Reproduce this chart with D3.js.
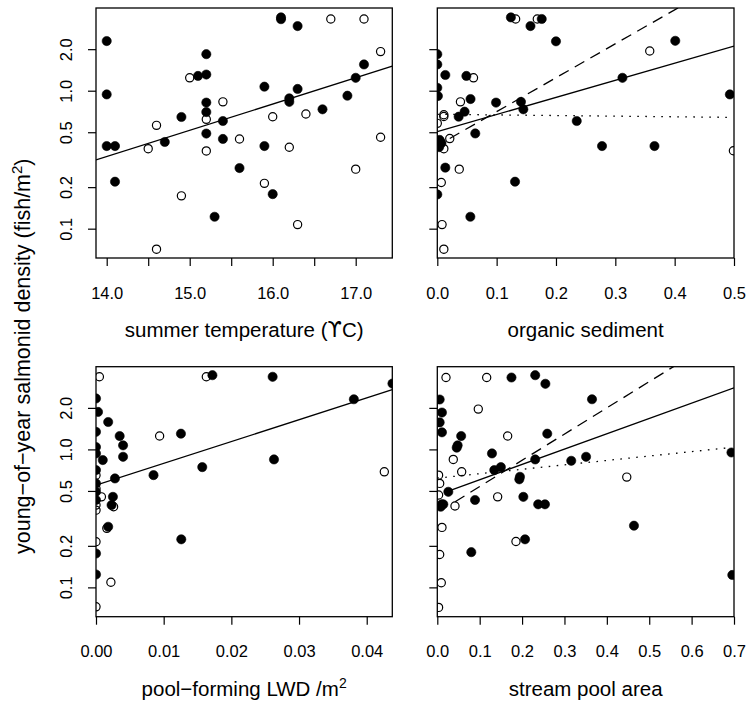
<!DOCTYPE html>
<html><head><meta charset="utf-8">
<script src="https://cdn.jsdelivr.net/npm/d3@7"></script>
<style>
body{margin:0;background:#fff}
svg{display:block}
text{font-family:"Liberation Sans",Arial,Helvetica,sans-serif;fill:#000}
</style>
</head><body>
<svg id="c" width="746" height="702"></svg>
<script>
// ---------- data: [x, density, filled(1)/open(0)] ----------
const tempPts = [[14.0,2.29,1],[14.0,0.94,1],[14.0,0.397,1],[14.1,0.397,1],[14.1,0.219,1],[14.5,0.38,0],[14.6,0.561,0],[14.6,0.071,0],[14.7,0.425,1],[14.9,0.645,1],[14.9,0.173,0],[15.0,1.24,0],[15.1,1.28,1],[15.2,1.31,1],[15.2,1.84,1],[15.2,0.82,1],[15.2,0.70,1],[15.2,0.62,0],[15.2,0.489,1],[15.2,0.366,0],[15.4,0.83,0],[15.4,0.603,1],[15.4,0.447,1],[15.3,0.122,1],[15.6,0.447,0],[15.6,0.275,1],[15.9,1.07,1],[15.9,0.397,1],[15.9,0.213,0],[16.0,0.648,0],[16.0,0.178,1],[16.1,3.40,1],[16.1,3.30,1],[16.2,0.88,1],[16.2,0.83,1],[16.2,0.389,0],[16.3,2.94,1],[16.3,1.03,1],[16.3,0.107,0],[16.4,0.678,0],[16.6,0.733,1],[16.7,3.31,0],[16.9,0.92,1],[17.0,1.24,1],[17.0,0.27,0],[17.1,1.55,1],[17.1,3.31,0],[17.3,1.92,0],[17.3,0.46,0]];
const sedPts = [[0,1.84,1],[0,1.55,1],[0.0135,1.30,1],[0,1.05,1],[0.001,0.915,1],[0.049,1.28,1],[0.061,1.24,0],[0.039,0.83,0],[0.056,0.87,1],[0.011,0.67,0],[0.011,0.65,0],[0,0.58,0],[0.036,0.648,1],[0.046,0.705,1],[0.064,0.49,1],[0.021,0.45,0],[0.004,0.44,1],[0.007,0.418,1],[0.003,0.39,1],[0.011,0.38,0],[0.0135,0.277,1],[0.037,0.27,0],[0.0067,0.216,0],[0,0.177,1],[0.0557,0.122,1],[0.008,0.107,0],[0.011,0.071,0],[0.124,3.40,1],[0.132,3.31,0],[0.1685,3.31,0],[0.176,3.31,1],[0.157,2.94,1],[0.200,2.28,1],[0.401,2.30,1],[0.358,1.94,0],[0.312,1.24,1],[0.493,0.94,1],[0.099,0.82,1],[0.141,0.83,1],[0.145,0.733,1],[0.235,0.603,1],[0.2776,0.397,1],[0.366,0.397,1],[0.499,0.367,0],[0.131,0.219,1]];
const lwdPts = [[0.0005,3.36,0],[0.0163,3.36,0],[0.0172,3.45,1],[0.0261,3.36,1],[0.0381,2.31,1],[0,2.34,1],[0.0003,1.87,1],[0.0018,1.58,1],[0,1.34,1],[0.0035,1.25,1],[0.0094,1.25,0],[0.01255,1.30,1],[0.004,1.07,1],[0.004,0.884,1],[0,1.04,1],[0,0.935,1],[0.001,0.837,1],[0,0.708,1],[0,0.65,0],[0.0028,0.616,1],[0,0.567,1],[0,0.52,0],[0,0.493,1],[0.0008,0.453,0],[0.0025,0.453,1],[0,0.43,1],[0,0.395,0],[0.0023,0.395,1],[0.0026,0.384,0],[0,0.363,0],[0.0018,0.275,1],[0.0016,0.268,0],[0,0.214,0],[0,0.176,1],[0,0.124,1],[0.0022,0.109,0],[0,0.0723,0],[0.0085,0.651,1],[0.0157,0.744,1],[0.0263,0.846,1],[0.0126,0.223,1],[0.0426,0.688,0],[0.0438,3.0,1]];
const poolPts = [[0.0205,3.32,0],[0.1165,3.32,0],[0.175,3.32,1],[0.231,3.45,1],[0.255,2.99,1],[0.365,2.31,1],[0.0967,1.96,0],[0.2594,1.30,1],[0.166,1.25,0],[0.0563,1.25,1],[0.048,1.07,1],[0.0458,1.03,1],[0.129,0.935,1],[0.0377,0.846,0],[0.231,0.846,1],[0.316,0.827,1],[0.351,0.884,1],[0.694,0.95,1],[0.1344,0.708,1],[0.150,0.744,1],[0.195,0.633,1],[0.1935,0.607,1],[0.0575,0.688,0],[0.447,0.63,0],[0.026,0.493,1],[0.089,0.43,1],[0.1424,0.453,0],[0.203,0.453,1],[0.238,0.40,1],[0.254,0.40,1],[0.0417,0.389,0],[0.0104,0.40,1],[0.0142,0.40,1],[0.008,0.384,1],[0.464,0.28,1],[0.1856,0.215,0],[0.207,0.223,1],[0.0802,0.18,1],[0.696,0.123,1],[0.0056,2.30,1],[0.011,1.85,1],[0.0056,1.57,1],[0.011,1.33,1],[0.003,0.651,0],[0.0056,0.567,0],[0.003,0.467,0],[0.011,0.272,0],[0.0056,0.173,0],[0.0094,0.108,0],[0.003,0.0716,0]];

// fitted lines: log10(density) = a + b*x, drawn from x0 to x1 (null = plot edge)
const tempFits = [{a:-3.143,b:0.1904,x0:null,x1:null,type:"solid"}];
const sedFits  = [{a:-0.297,b:1.242,x0:0,x1:null,type:"solid"},{a:-0.398,b:2.46,x0:0.021,x1:null,type:"dashed"},{a:-0.171,b:-0.0448,x0:0,x1:0.496,type:"dotted"}];
const lwdFits  = [{a:-0.259,b:15.8,x0:null,x1:null,type:"solid"}];
const poolFits = [{a:-0.331,b:1.11,x0:0.026,x1:null,type:"solid"},{a:-0.459,b:1.90,x0:0.042,x1:null,type:"dashed"},{a:-0.208,b:0.320,x0:0,x1:0.694,type:"dotted"}];

// ticks
const tempTicks = [14,14.5,15,15.5,16,16.5,17];
const tempTickLabels = ["14.0","","15.0","","16.0","","17.0"];
const sedTicks = [0,0.1,0.2,0.3,0.4,0.5];
const sedTickLabels = ["0.0","0.1","0.2","0.3","0.4","0.5"];
const lwdTicks = [0,0.01,0.02,0.03,0.04];
const lwdTickLabels = ["0.00","0.01","0.02","0.03","0.04"];
const poolTicks = [0,0.1,0.2,0.3,0.4,0.5,0.6,0.7];
const poolTickLabels = ["0.0","0.1","0.2","0.3","0.4","0.5","0.6","0.7"];
const yTicks = [0.1,0.2,0.5,1,2];
const yTickLabels = ["0.1","0.2","0.5","1.0","2.0"];

// ---------- layout ----------
const svg = d3.select("#c");
const yDomain = [0.0613, 3.976];
const colL = [96, 392.3], colR = [437.3, 734];
const rowT = [8, 258], rowB = [366.7, 616.7];

const panels = [
  {pts:tempPts, fits:tempFits, ticks:tempTicks, labels:tempTickLabels, xd:[13.871,17.441], col:colL, row:rowT, ylab:true},
  {pts:sedPts, fits:sedFits, ticks:sedTicks, labels:sedTickLabels, xd:[0,0.5], col:colR, row:rowT, ylab:false},
  {pts:lwdPts, fits:lwdFits, ticks:lwdTicks, labels:lwdTickLabels, xd:[0,0.04378], col:colL, row:rowB, ylab:true},
  {pts:poolPts, fits:poolFits, ticks:poolTicks, labels:poolTickLabels, xd:[0,0.7], col:colR, row:rowB, ylab:false}
];

const dash = {solid:null, dashed:"11,7", dotted:"1.6,6.4"};

panels.forEach((p,i)=>{
  const x = d3.scaleLinear().domain(p.xd).range(p.col);
  const y = d3.scaleLog().domain(yDomain).range([p.row[1], p.row[0]]);
  const cid = "clip"+i;
  svg.append("clipPath").attr("id",cid).append("rect")
    .attr("x",p.col[0]).attr("y",p.row[0])
    .attr("width",p.col[1]-p.col[0]).attr("height",p.row[1]-p.row[0]);
  const g = svg.append("g").attr("clip-path",`url(#${cid})`);

  g.selectAll("circle").data(p.pts).join("circle")
    .attr("cx",d=>x(d[0])).attr("cy",d=>y(d[1]))
    .attr("r",d=>d[2]?4.6:4.1)
    .attr("fill",d=>d[2]?"#000":"none")
    .attr("stroke","#000").attr("stroke-width",d=>d[2]?0.6:1.2);

  p.fits.forEach(f=>{
    const xa = f.x0==null?p.xd[0]:f.x0, xb = f.x1==null?p.xd[1]:f.x1;
    const pts = [xa,xb].map(v=>[x(v), y(Math.pow(10,f.a+f.b*v))]);
    g.append("path").attr("d",d3.line()(pts))
      .attr("fill","none").attr("stroke","#000").attr("stroke-width",1.3)
      .attr("stroke-dasharray",dash[f.type]);
  });

  svg.append("rect").attr("x",p.col[0]).attr("y",p.row[0])
    .attr("width",p.col[1]-p.col[0]).attr("height",p.row[1]-p.row[0])
    .attr("fill","none").attr("stroke","#000").attr("stroke-width",1.3);

  const xa = svg.append("g").attr("transform",`translate(0,${p.row[1]})`)
    .call(d3.axisBottom(x).tickValues(p.ticks).tickSize(8).tickSizeOuter(0)
      .tickPadding(21).tickFormat((d,j)=>p.labels[j]));
  xa.select(".domain").remove();
  xa.selectAll("line").attr("stroke","#000").attr("stroke-width",1.2);
  xa.selectAll("text").attr("font-size",16.5).attr("font-family",null);

  const ya = svg.append("g").attr("transform",`translate(${p.col[0]},0)`)
    .call(d3.axisLeft(y).tickValues(yTicks).tickSize(8).tickSizeOuter(0)
      .tickFormat((d,j)=>p.ylab?yTickLabels[j]:""));
  ya.select(".domain").remove();
  ya.selectAll("line").attr("stroke","#000").attr("stroke-width",1.2);
  ya.selectAll("text").attr("font-size",16.5).attr("font-family",null)
    .attr("x",null).attr("dy",null).attr("text-anchor","middle")
    .attr("transform","translate(-24,0) rotate(-90)");
});

// axis titles
function xTitle(cx, by, parts){
  const t = svg.append("text").attr("x",cx).attr("y",by).attr("text-anchor","middle").attr("font-size",20.5);
  parts.forEach(pt=>{
    const s = t.append("tspan").text(pt.t);
    if(pt.font) s.attr("font-family",pt.font);
    if(pt.sup) s.attr("font-size",14).attr("dy",-8);
  });
}
xTitle((colL[0]+colL[1])/2, rowT[1]+79, [{t:"summer temperature ("},{t:"\u03D2",font:"DejaVu Sans"},{t:"C)"}]);
xTitle((colR[0]+colR[1])/2, rowT[1]+79, [{t:"organic sediment"}]);
xTitle((colL[0]+colL[1])/2, rowB[1]+79, [{t:"pool\u2212forming LWD  /m"},{t:"2",sup:true}]);
xTitle((colR[0]+colR[1])/2, rowB[1]+79, [{t:"stream pool area"}]);

// y title
const yt = svg.append("text").attr("transform","translate(30,554) rotate(-90)")
  .attr("text-anchor","start").attr("font-size",21.5);
yt.append("tspan").text("young\u2212of\u2212year salmonid density (fish/m");
yt.append("tspan").text("2").attr("font-size",15).attr("dy",-8);
yt.append("tspan").text(")").attr("dy",8);
</script>
</body></html>
